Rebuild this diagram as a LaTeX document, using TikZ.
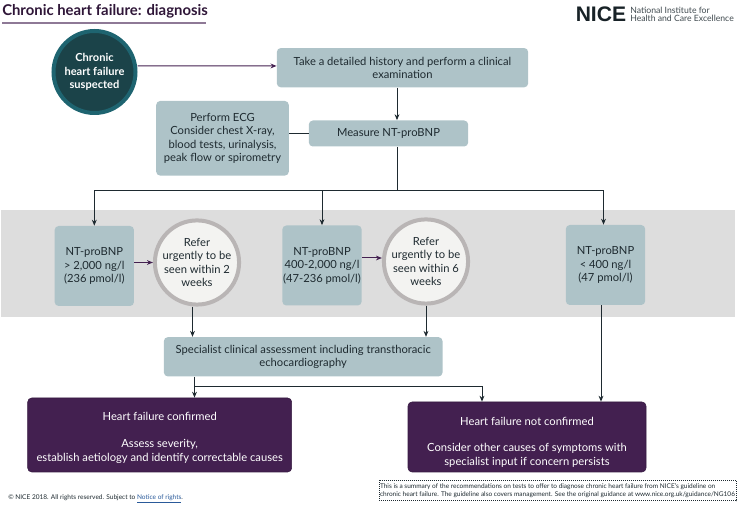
\documentclass[tikz,border=0pt]{standalone}
\usepackage{fontspec}
\setmainfont{Lato}
\newfontfamily\logofont{Liberation Sans}
\usetikzlibrary{arrows.meta,calc}
\definecolor{boxblue}{HTML}{AEC3C8}
\definecolor{band}{HTML}{DDDDDD}
\definecolor{nicepurple}{HTML}{432050}
\definecolor{teal1}{HTML}{1B4349}
\definecolor{teal2}{HTML}{1E6470}
\definecolor{ink}{HTML}{1E2A30}
\definecolor{ringgrey}{HTML}{B9B5B5}
\definecolor{ringfill}{HTML}{F3F3F1}
\definecolor{linkblue}{HTML}{2A5A9A}
\tikzset{
  x=0.75pt,y=-0.75pt,
  txt/.style={font=\fontsize{8.4}{10.15}\selectfont,text=ink,align=center},
  infobox/.style={txt,fill=boxblue,rounded corners=3pt,inner sep=0pt,minimum width=#1},
  infobox/.default=10pt,
  outcome/.style={font=\fontsize{8.4}{10.4}\selectfont,text=white,align=center,fill=nicepurple,draw=nicepurple!80!black,line width=0.4pt,rounded corners=3pt,inner sep=0pt},
  refer/.style={txt,circle,draw=ringgrey,line width=3pt,fill=ringfill,minimum size=59.5pt,inner sep=0pt},
  blk/.style={draw=ink,line width=0.75pt,-{Stealth[length=4.5pt,width=3.6pt]}},
  pur/.style={draw=nicepurple,line width=0.75pt,-{Stealth[length=4.5pt,width=3.6pt]}},
}
\begin{document}
\begin{tikzpicture}
\useasboundingbox (0,0) rectangle (744,505);
\fill[band] (1,210.5) rectangle (735,317);
% title
\node[anchor=base west,inner sep=0pt,font=\fontsize{11.15}{15}\selectfont\bfseries,text=nicepurple!70!black] (title) at (2,15.5) {Chronic heart failure: diagnosis};
\coordinate (ula) at (2,23); \coordinate (ulb) at (206,23);
\draw[draw=nicepurple!60!white,line width=1pt] (ula) -- (ulb);
% logo
\node[anchor=base west,inner sep=0pt,font=\logofont\bfseries\fontsize{15.8}{18}\selectfont,text=ink!80!black] (logo) at (575.5,21.5) {NICE};
\node[anchor=west,inner sep=0pt,font=\fontsize{6.5}{6.2}\selectfont,text=ink!85,align=left] (logotxt) at (630,14) {National Institute for\\Health and Care Excellence};
% nodes
\node[circle,draw=teal2,line width=3pt,fill=teal1,minimum size=61.5pt,inner sep=0pt,font=\fontsize{8.3}{10.15}\selectfont\bfseries,text=white,align=center] (sus) at (94.5,72) {Chronic\\heart failure\\suspected};
\node[infobox=188.5pt,minimum height=29.5pt] (hist) at (402.5,67.7) {Take a detailed history and perform a clinical\\examination};
\node[infobox=99.5pt,minimum height=56pt] (ecg) at (222.5,138.3) {Perform ECG\\Consider chest X-ray,\\blood tests, urinalysis,\\peak flow or spirometry};
\node[infobox=119.5pt,minimum height=19.5pt] (meas) at (388.5,133.5) {Measure NT-proBNP};
\coordinate (bus) at (397,191);
\node[infobox=59.5pt,minimum height=60pt] (n1) at (94.3,266) {NT-proBNP\\> 2,000 ng/l\\(236 pmol/l)};
\node[refer] (c1) at (197,262.5) {Refer\\urgently to be\\seen within 2\\weeks};
\node[infobox=59.5pt,minimum height=60pt] (n2) at (322,265.5) {NT-proBNP\\400-2,000 ng/l\\(47-236 pmol/l)};
\node[refer] (c2) at (426,261.5) {Refer\\urgently to be\\seen within 6\\weeks};
\node[infobox=59.5pt,minimum height=60pt] (n3) at (605.5,265) {NT-proBNP\\< 400 ng/l\\(47 pmol/l)};
\node[infobox=209pt,minimum height=29.5pt] (spec) at (303.2,356.8) {Specialist clinical assessment including transthoracic\\echocardiography};
\node[outcome,minimum width=198pt,minimum height=55.5pt] (conf) at (159.7,435) {\rule{0pt}{10.6pt}Heart failure confirmed\\[9.5pt]Assess severity,\\establish aetiology and identify correctable causes};
\node[outcome,minimum width=178.5pt,minimum height=52.5pt] (nconf) at (527,437) {\rule{0pt}{14pt}Heart failure not confirmed\\[9pt]Consider other causes of symptoms with\\specialist input if concern persists};
\node[draw=ink,densely dotted,line width=0.5pt,inner sep=0pt,minimum width=267.5pt,minimum height=15.5pt,font=\fontsize{4.88}{6.4}\selectfont,text=ink,align=left] (note) at (557.5,490.5) {This is a summary of the recommendations on tests to offer to diagnose chronic heart failure from NICE's guideline on\\chronic heart failure. The guideline also covers management. See the original guidance at www.nice.org.uk/guidance/NG106};
\node[anchor=base west,inner sep=0pt,font=\fontsize{4.9}{6.4}\selectfont,text=ink] (copy) at (8,499.5) {© NICE 2018. All rights reserved. Subject to \textcolor{linkblue}{\underline{Notice of rights}}.};
% connectors
\draw[pur] (sus.east |- 0,66) -- ([yshift=1.3pt]hist.west);
\draw[blk] (hist.south -| bus) -- (meas.north -| bus);
\draw[draw=ink,line width=0.75pt] (ecg.east |- meas.west) -- (meas.west);
\draw[draw=ink,line width=0.75pt] (meas.south -| bus) -- (bus);
\coordinate (busl) at (n1.north |- bus);
\coordinate (busr) at (n3.north |- bus);
\draw[draw=ink,line width=0.75pt] ($(busl)+(0,0)$) -- ($(busr)+(-2,0)$);
\draw[blk] (busl) -- (n1.north);
\draw[blk] (n2.north |- bus) -- (n2.north);
\draw[blk] ($(busr)+(-2,0)$) -- ($(n3.north)+(-2,0)$);
\draw[pur] (n1.east |- c1.west) -- (c1.west);
\draw[pur] ($(n2.east)+(0,-7.5)$) -- ($(c2.west)+(0,-3.5)$);
\draw[blk] (c1.south -| 192.5,0) -- (spec.north -| 192.5,0);
\draw[blk] (c2.south) -- (spec.north -| c2.south);
\coordinate (brl) at (194.5,387);
\coordinate (brr) at (482,387);
\draw[blk] (spec.south -| brl) -- (conf.north -| brl);
\draw[blk] (brl) -- (brr) -- (nconf.north -| brr);
\draw[blk] ($(n3.south)+(-4.5,0)$) -- ($(nconf.north)+(74,0)$);
\end{tikzpicture}
\end{document}
